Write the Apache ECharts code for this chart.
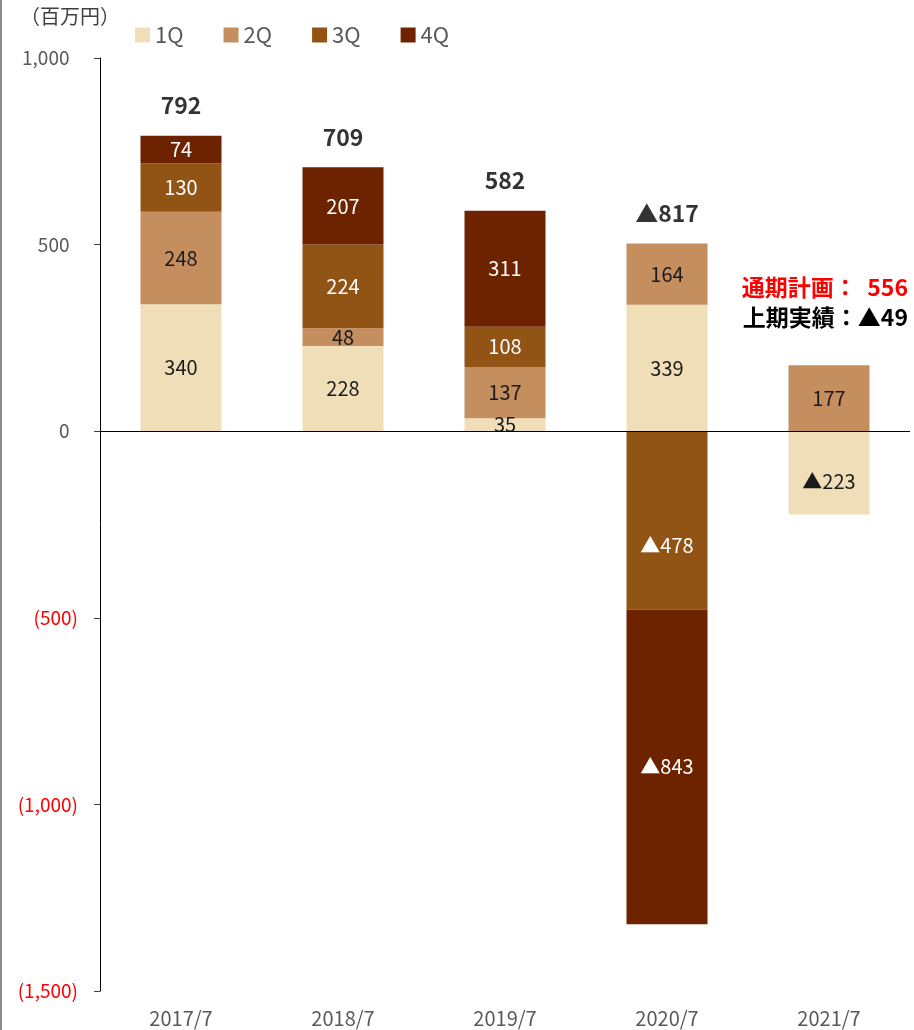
<!DOCTYPE html>
<html>
<head>
<meta charset="utf-8">
<script src="https://cdn.jsdelivr.net/npm/echarts@6/dist/echarts.min.js"></script>
<style>
  html, body { margin: 0; padding: 0; background: #fff; }
  #chart { width: 914px; height: 1030px; }
</style>
</head>
<body>
<div id="chart"></div>
<script>
// Quarterly operating result by fiscal year (百万円)
const categories = ['2017/7', '2018/7', '2019/7', '2020/7', '2021/7'];
const q1 = [340, 228, 35, 339, -223];
const q2 = [248, 48, 137, 164, 177];
const q3 = [130, 224, 108, -478, null];
const q4 = [74, 207, 311, -843, null];
const totalLabels = ['792', '709', '582', '▲817', null];
const planText = '通期計画：  556';
const halfText = '上期実績：▲49';

const colors = ['#F0DEB9', '#C48E5F', '#925414', '#6E2300'];
const labelColors = ['#1a1a1a', '#1a1a1a', '#ffffff', '#ffffff'];
const FONT = '"Noto Sans CJK JP", "Noto Sans", sans-serif';

// labels of a few negative segments sit a little below the segment centre
const labelShift = { '0-4': 9, '2-3': 25 };

const fmtNum = v => Math.abs(v).toLocaleString('en-US');
const fmtBar = v => (v < 0 ? '▲' : '') + fmtNum(v);

// height of the positive stack, used to anchor the total above each bar
const positiveTop = categories.map((_, i) =>
  [q1, q2, q3, q4].reduce((s, arr) => s + (arr[i] > 0 ? arr[i] : 0), 0));

const quarterSeries = [q1, q2, q3, q4].map((arr, k) => ({
  name: (k + 1) + 'Q',
  type: 'bar',
  stack: 'total',
  barWidth: '50%',
  data: arr.map((v, i) => {
    const dy = labelShift[k + '-' + i];
    return dy ? { value: v, label: { offset: [0, dy] } } : v;
  }),
  itemStyle: { color: colors[k] },
  label: {
    show: true,
    position: 'inside',
    color: labelColors[k],
    fontFamily: FONT,
    fontSize: 20,
    formatter: p => p.value == null ? '' : fmtBar(p.value)
  },
  emphasis: { disabled: true },
  markLine: k === 0 ? {
    silent: true,
    symbol: 'none',
    label: { show: false },
    lineStyle: { color: '#000', width: 1, type: 'solid' },
    data: [{ yAxis: 0 }]
  } : undefined
}));

const chart = echarts.init(document.getElementById('chart'));
chart.setOption({
  animation: false,
  backgroundColor: '#fff',
  textStyle: { fontFamily: FONT },
  grid: { left: 100, right: 4, top: 58, bottom: 39 },
  legend: {
    data: ['1Q', '2Q', '3Q', '4Q'],
    left: 130,
    top: 19,
    icon: 'rect',
    itemWidth: 15,
    itemHeight: 15,
    itemGap: 40,
    textStyle: { color: '#595959', fontSize: 22, fontFamily: FONT }
  },
  xAxis: {
    type: 'category',
    data: categories,
    axisLine: { show: false },
    axisTick: { show: false },
    axisLabel: { color: '#595959', fontSize: 20, margin: 17, fontFamily: FONT }
  },
  yAxis: {
    type: 'value',
    min: -1500,
    max: 1000,
    interval: 500,
    axisLine: { show: true, lineStyle: { color: '#000', width: 1 } },
    axisTick: { show: true, length: 6, lineStyle: { color: '#404040' } },
    splitLine: { show: false },
    axisLabel: {
      fontSize: 19,
      margin: 22,
      fontFamily: FONT,
      color: v => (v < 0 ? '#FF0000' : '#595959'),
      formatter: v => v < 0 ? '(' + fmtNum(v) + ')' : fmtNum(v) + '  '
    }
  },
  series: [
    ...quarterSeries,
    {
      name: 'total',
      type: 'scatter',
      data: positiveTop.map((v, i) => totalLabels[i] == null ? null : v),
      symbolSize: 0,
      silent: true,
      label: {
        show: true,
        position: 'top',
        distance: 19,
        color: '#000',
        fontSize: 23,
        fontWeight: 'bold',
        fontFamily: FONT,
        formatter: p => totalLabels[p.dataIndex] || ''
      }
    }
  ],
  graphic: [
    { type: 'rect', left: 0, top: 0, shape: { width: 2, height: 1030 }, style: { fill: '#8c8c8c' } },
    { type: 'text', left: 20, top: 6, style: { text: '（百万円）', fill: '#404040', font: '20px ' + FONT } },
    { type: 'text', right: 6, top: 276, style: { text: planText, fill: '#FF0000', font: 'bold 23px ' + FONT, textAlign: 'right' } },
    { type: 'text', right: 6, top: 306, style: { text: halfText, fill: '#000', font: 'bold 23px ' + FONT, textAlign: 'right' } }
  ]
});
</script>
</body>
</html>
